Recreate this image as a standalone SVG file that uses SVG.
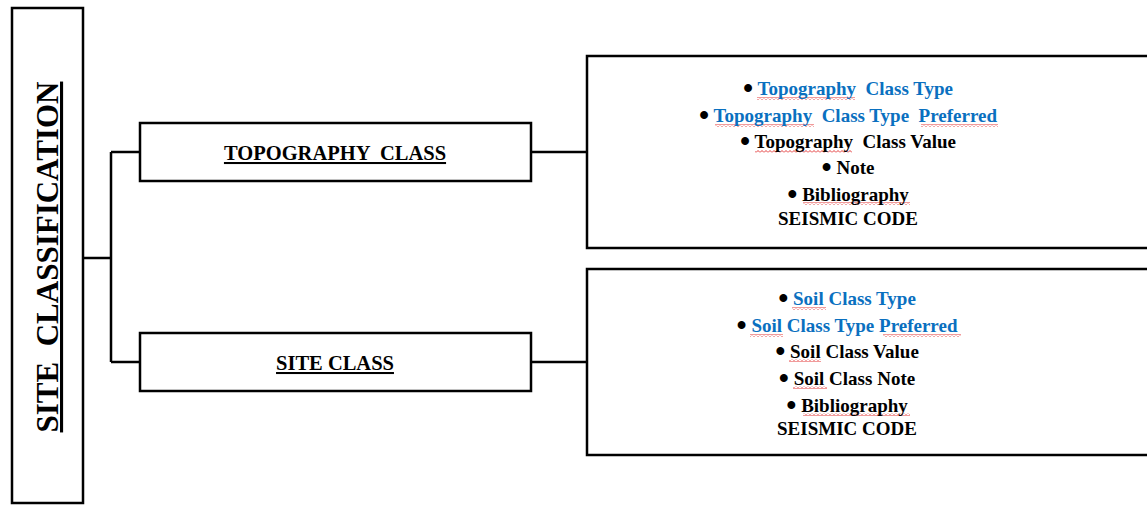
<svg xmlns="http://www.w3.org/2000/svg" width="1147" height="507" viewBox="0 0 1147 507">
<style>
.box{fill:#fff;stroke:#000;stroke-width:2.5}
.conn{fill:none;stroke:#000;stroke-width:2.5}
text{font-family:"Liberation Serif","Times New Roman",serif;font-weight:bold;white-space:pre}
.hdr{font-size:20.5px;text-decoration:underline}
.lst{font-size:19px;fill:#000}
.b{font-size:29px;baseline-shift:-3px}
.blue{fill:#0A70C0}
.sq{fill:url(#squig)}
</style>
<defs>
<pattern id="squig" width="4" height="3" patternUnits="userSpaceOnUse">
<path d="M0 2.5 L2 0.5 L4 2.5" fill="none" stroke="#e02020" stroke-width="0.9"/>
</pattern>
</defs>
<rect width="1147" height="507" fill="#fff"/>
<g id="connectors">
<path class="conn" d="M83 258 H111 M111 152 V362 M111 152 H140 M111 362 H140"/>
<path class="conn" d="M531 152 H587 M531 362 H587"/>
</g>
<g id="site-classification">
<rect class="box" x="12" y="8" width="71" height="495"/>
<text transform="translate(58 257) rotate(-90)" text-anchor="middle" style="font-size:31px;text-decoration:underline">SITE  CLASSIFICATION</text>
</g>
<g id="topography-class">
<rect class="box" x="140" y="123" width="391" height="58"/>
<text class="hdr" x="335" y="160" text-anchor="middle">TOPOGRAPHY  CLASS</text>
</g>
<g id="site-class">
<rect class="box" x="140" y="333" width="391" height="58"/>
<text class="hdr" x="335" y="370" text-anchor="middle">SITE CLASS</text>
</g>
<g id="topography-details">
<rect class="box" x="587" y="56" width="570" height="192"/>
<g class="sq">
<rect x="757" y="97" width="98" height="3"/>
<rect x="715" y="124" width="99" height="3"/>
<rect x="921" y="124" width="77" height="3"/>
<rect x="755" y="150" width="97" height="3"/>
<rect x="803" y="202" width="107" height="3"/>
</g>
<text class="lst" x="848" y="95" text-anchor="middle"><tspan class="b">•</tspan> <tspan class="blue">Topography  Class Type</tspan></text>
<text class="lst" x="848" y="122" text-anchor="middle"><tspan class="b">•</tspan> <tspan class="blue">Topography  Class Type  Preferred</tspan></text>
<text class="lst" x="848" y="148" text-anchor="middle"><tspan class="b">•</tspan> Topography  Class Value</text>
<text class="lst" x="848" y="174" text-anchor="middle"><tspan class="b">•</tspan> Note</text>
<text class="lst" x="848" y="201" text-anchor="middle"><tspan class="b">•</tspan> Bibliography</text>
<text class="lst" x="848" y="225" text-anchor="middle">SEISMIC CODE</text>
</g>
<g id="site-details">
<rect class="box" x="587" y="269" width="570" height="186"/>
<g class="sq">
<rect x="792" y="307" width="34" height="3"/>
<rect x="750" y="334" width="33" height="3"/>
<rect x="883" y="334" width="78" height="3"/>
<rect x="789" y="359" width="32" height="3"/>
<rect x="793" y="386" width="34" height="3"/>
<rect x="803" y="413" width="107" height="3"/>
</g>
<text class="lst" x="847" y="305" text-anchor="middle"><tspan class="b">•</tspan> <tspan class="blue">Soil Class Type</tspan></text>
<text class="lst" x="847" y="332" text-anchor="middle"><tspan class="b">•</tspan> <tspan class="blue">Soil Class Type Preferred</tspan></text>
<text class="lst" x="847" y="358" text-anchor="middle"><tspan class="b">•</tspan> Soil Class Value</text>
<text class="lst" x="847" y="385" text-anchor="middle"><tspan class="b">•</tspan> Soil Class Note</text>
<text class="lst" x="847" y="412" text-anchor="middle"><tspan class="b">•</tspan> Bibliography</text>
<text class="lst" x="847" y="435" text-anchor="middle">SEISMIC CODE</text>
</g>
</svg>
